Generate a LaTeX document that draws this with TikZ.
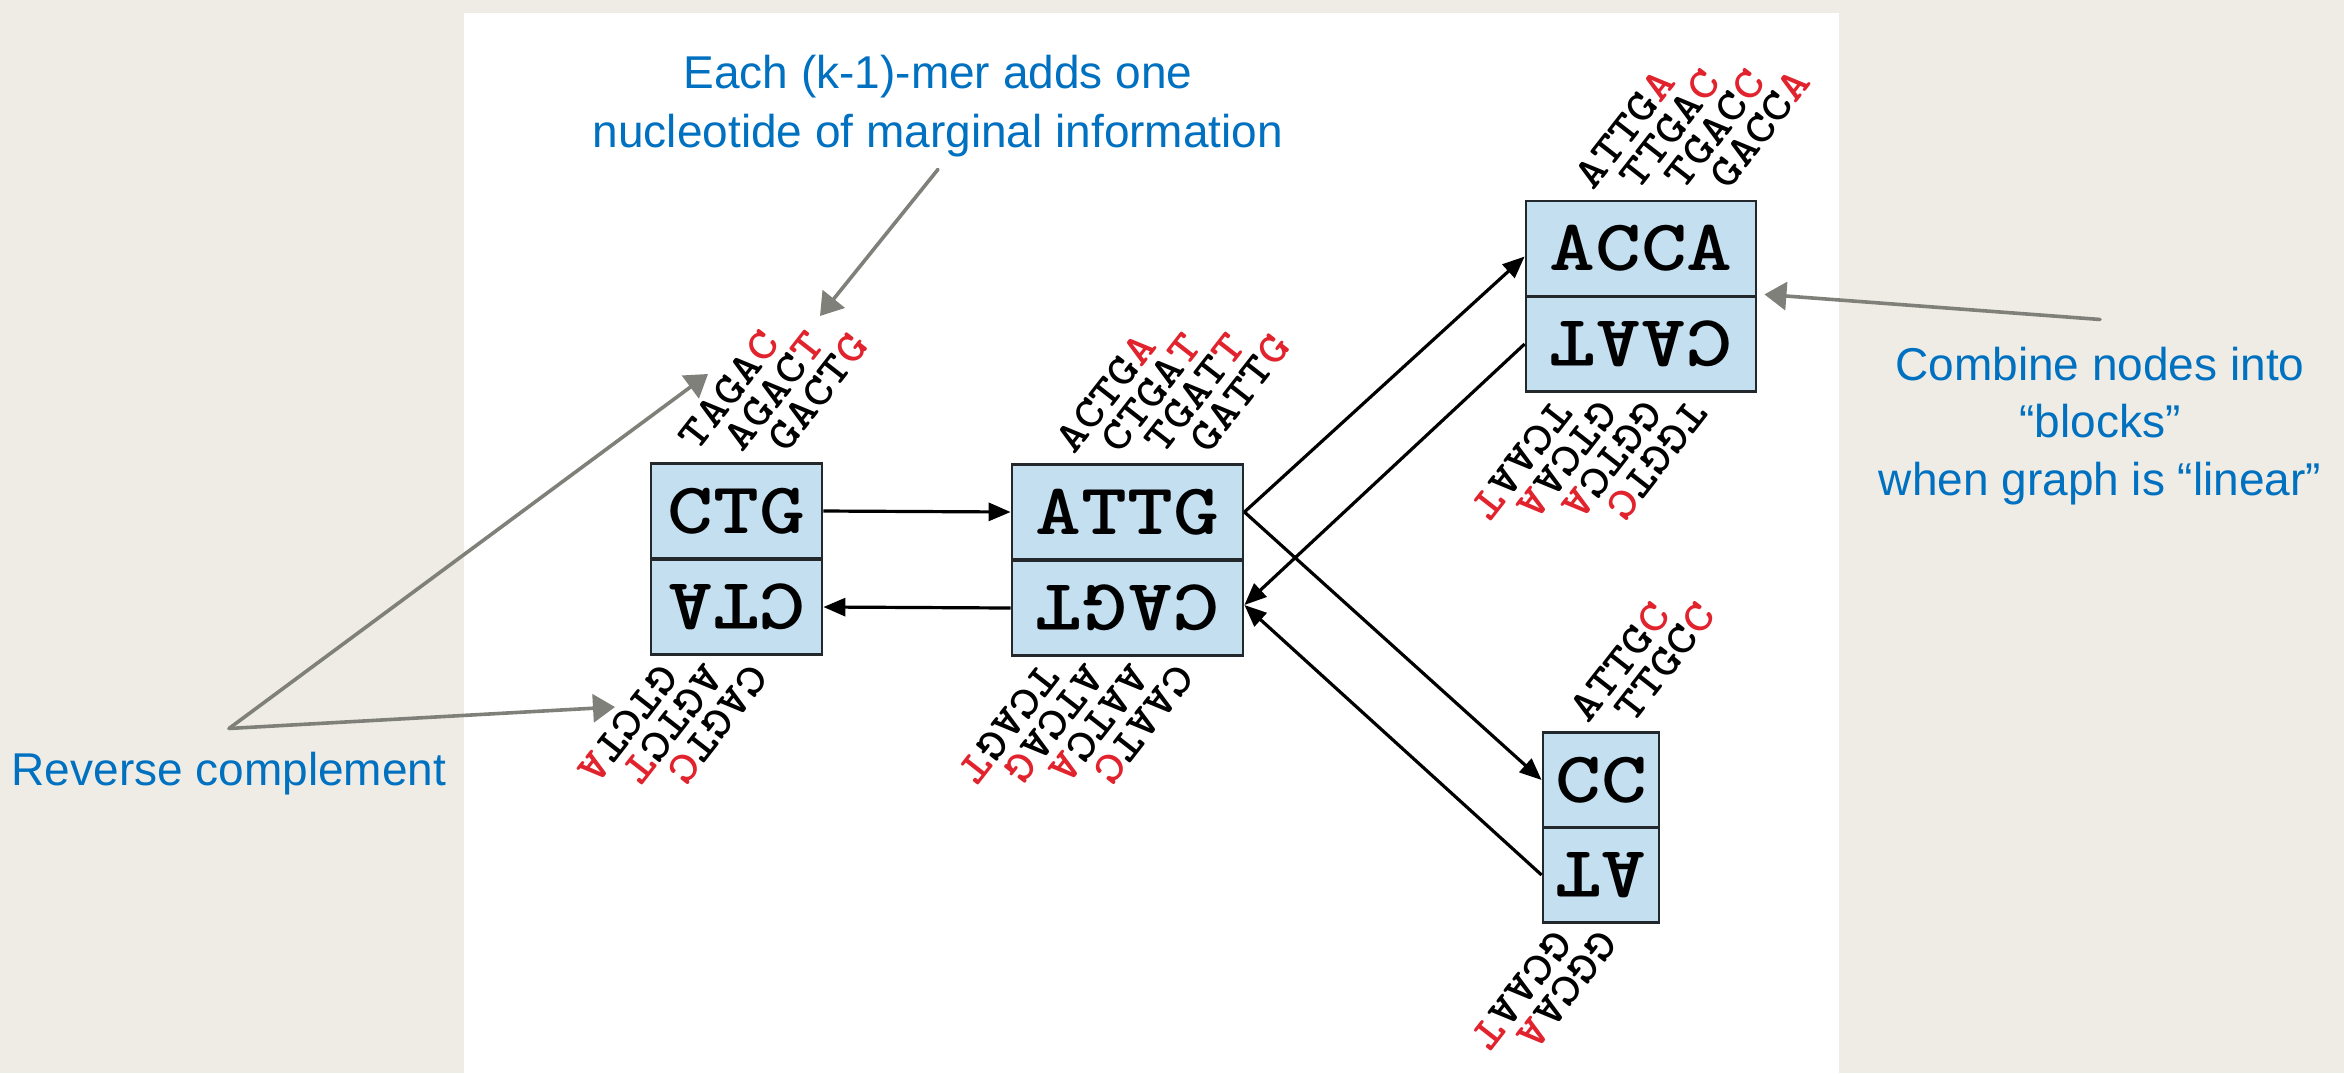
\documentclass[tikz,border=0pt]{standalone}
\usepackage{fontspec}
\usepackage{graphicx}
\setmainfont{Liberation Sans}
\newfontfamily\dnafont{lmmonolt10-bold.otf}[FakeStretch=1.2]
\usetikzlibrary{arrows.meta,calc}

\definecolor{slidebg}{RGB}{238,236,228}
\definecolor{noteblue}{RGB}{0,112,192}
\definecolor{notegray}{RGB}{128,128,122}
\definecolor{cellfill}{RGB}{196,223,240}
\definecolor{cellline}{RGB}{35,40,45}
\definecolor{newbase}{RGB}{225,35,45}

% a (k+1)-mer whose last base is the new one
\newcommand\kmer[2]{#1\textcolor{newbase}{#2}}
% the reverse strand, printed upside down
\newcommand\revstrand[1]{\rotatebox[origin=c]{180}{#1}}

\begin{document}
\begin{tikzpicture}[x=0.25pt, y=-0.25pt,
  cell/.style={draw=cellline, line width=0.7pt, fill=cellfill,
    minimum width=#1*0.25pt, minimum height=95*0.25pt, inner sep=0pt,
    font=\dnafont\fontsize{18.2pt}{18.2pt}\selectfont},
  kmerfont/.style={inner sep=0pt,
    font=\dnafont\fontsize{10.9pt}{10.9pt}\selectfont},
  kmerup/.style={kmerfont, rotate=52},
  kmerdown/.style={kmerfont, rotate=232},
  edge/.style={line width=0.8pt, black, -{Triangle[length=5.5pt,width=4.5pt]}},
  note/.style={notegray, line width=0.9pt, line cap=round,
    -{Triangle[length=5.5pt,width=7pt]}},
  notetext/.style={text=noteblue, inner sep=0pt, anchor=base,
    font=\fontsize{11.5pt}{14.5pt}\selectfont}]

% slide background and the white figure panel
\fill[slidebg] (0,0) rectangle (2344,1073);
\fill[white] (464,13) rectangle (1839,1073);

% nodes: forward strand on top, reverse strand below
\node[cell=171] (ctgT) at (736.5,511) {CTG};
\node[cell=171] (ctgB) at (736.5,607) {\revstrand{CTA}};
\node[cell=231] (attgT) at (1127.5,512) {ATTG};
\node[cell=231] (attgB) at (1127.5,608) {\revstrand{CAGT}};
\node[cell=230] (accaT) at (1641,248.5) {ACCA};
\node[cell=230] (accaB) at (1641,344) {\revstrand{CAAT}};
\node[cell=116] (ccT) at (1601,780) {CC};
\node[cell=116] (ccB) at (1601,875) {\revstrand{AT}};

% edges of the graph
\draw[edge] (ctgT.east) -- (attgT.west);
\draw[edge] (attgB.west) -- (ctgB.east);
\draw[edge] (attgT.east) -- ([yshift=-2pt]accaT.west);
\draw[edge] (accaB.west) -- ([yshift=0.75pt]attgB.east);
\draw[edge] (attgT.east) -- (ccT.west);
\draw[edge] (ccB.west) -- ([yshift=0.75pt]attgB.east);

% (k+1)-mers over each node
\node[kmerup] (ctgU1) at (729,390) {\kmer{TAGA}{C}};
\node[kmerup] (ctgU2) at (774,391) {\kmer{AGAC}{T}};
\node[kmerup] (ctgU3) at (818,392) {\kmer{GACT}{G}};

\node[kmerup] (attgU1) at (1106,393) {\kmer{ACTG}{A}};
\node[kmerup] (attgU2) at (1151,393) {\kmer{CTGA}{T}};
\node[kmerup] (attgU3) at (1195,393) {\kmer{TGAT}{T}};
\node[kmerup] (attgU4) at (1240,393) {\kmer{GATT}{G}};

\node[kmerup] (accaU1) at (1625,129) {\kmer{ATTG}{A}};
\node[kmerup] (accaU2) at (1670,129) {\kmer{TTGA}{C}};
\node[kmerup] (accaU3) at (1715,129) {\kmer{TGAC}{C}};
\node[kmerup] (accaU4) at (1760,129) {\kmer{GACC}{A}};

\node[kmerup] (ccU1) at (1620,662) {\kmer{ATTG}{C}};
\node[kmerup] (ccU2) at (1665,662) {\kmer{TTGC}{C}};

% reverse complements under each node
\node[kmerdown] (ctgD1) at (628,724) {\kmer{GTCT}{A}};
\node[kmerdown] (ctgD2) at (673,724) {\kmer{AGTC}{T}};
\node[kmerdown] (ctgD3) at (718,724) {\kmer{CAGT}{C}};

\node[kmerdown] (attgD1) at (1009,724) {\kmer{TCAG}{T}};
\node[kmerdown] (attgD2) at (1054,724) {\kmer{ATCA}{G}};
\node[kmerdown] (attgD3) at (1099,724) {\kmer{AATC}{A}};
\node[kmerdown] (attgD4) at (1144,724) {\kmer{CAAT}{C}};

\node[kmerdown] (accaD1) at (1522,460) {\kmer{TCAA}{T}};
\node[kmerdown] (accaD2) at (1567,460) {\kmer{GTCA}{A}};
\node[kmerdown] (accaD3) at (1612,460) {\kmer{GGTC}{A}};
\node[kmerdown] (accaD4) at (1657,460) {\kmer{TGGT}{C}};

\node[kmerdown] (ccD1) at (1522,990) {\kmer{GCAA}{T}};
\node[kmerdown] (ccD2) at (1567,990) {\kmer{GGCA}{A}};

% annotations
\node[notetext] (each1) at (938,88) {Each (k-1)-mer adds one};
\node[notetext] (each2) at (938,147) {nucleotide of marginal information};
\coordinate (eachTip) at (820,316);
\draw[note] ([yshift=-3pt]each2.south) -- (eachTip);

\node[notetext] (rc) at (229,785) {Reverse complement};
\coordinate (rcFork) at ([yshift=5.6pt]rc.north);
\coordinate (rcTipUp) at (708,374);
\coordinate (rcTipDown) at (615,707);
\draw[note] (rcFork) -- (rcTipUp);
\draw[note] (rcFork) -- (rcTipDown);

\node[notetext] (cmb1) at (2100,380) {Combine nodes into};
\node[notetext] (cmb2) at (2100,437) {“blocks”};
\node[notetext] (cmb3) at (2100,495) {when graph is “linear”};
\draw[note] ([yshift=6.6pt]cmb1.north) -- ([shift={(1.75pt,0.75pt)}]accaT.south east);
\end{tikzpicture}
\end{document}
